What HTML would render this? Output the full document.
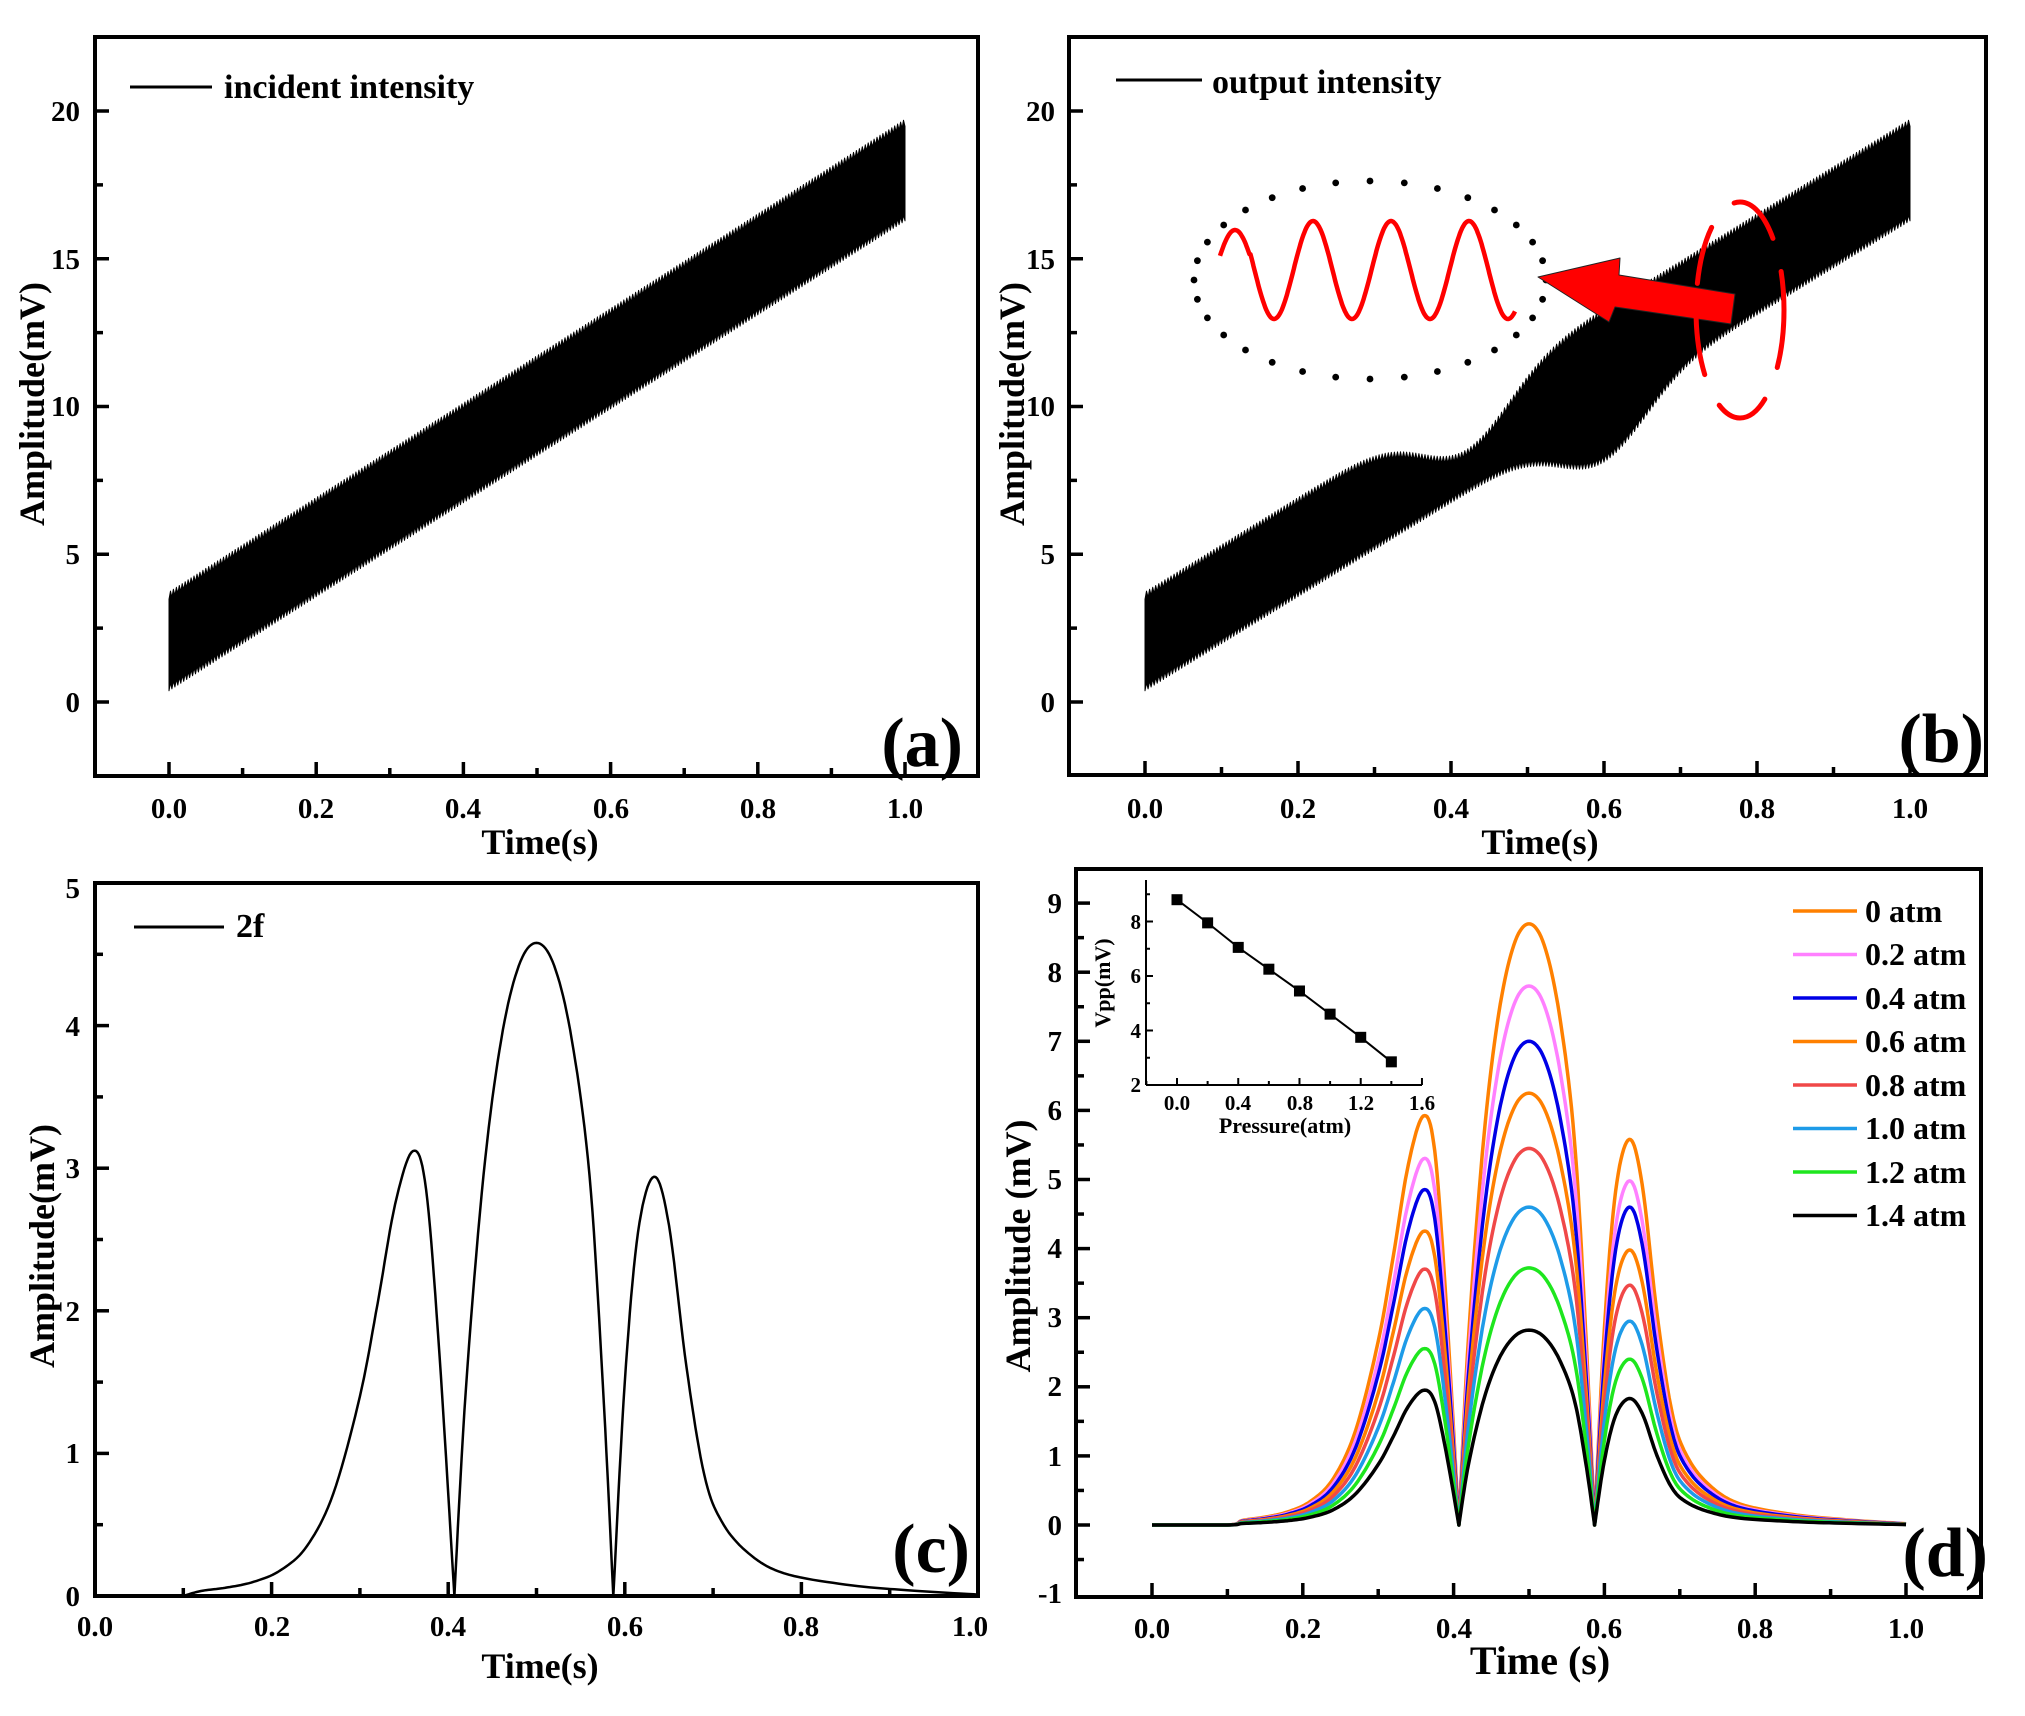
<!DOCTYPE html>
<html><head><meta charset="utf-8">
<style>
html,body{margin:0;padding:0;background:#fff;}
svg{display:block;}
text{font-family:"Liberation Serif",serif;font-weight:bold;fill:#000;}
</style></head>
<body>
<svg id="s" width="2025" height="1716" viewBox="0 0 2025 1716" xmlns="http://www.w3.org/2000/svg">
<g font-size="29" text-anchor="end">
<text x="80" y="712">0</text><text x="80" y="564">5</text><text x="80" y="416">10</text><text x="80" y="269">15</text><text x="80" y="121">20</text>
<text x="1055" y="712">0</text><text x="1055" y="564">5</text><text x="1055" y="416">10</text><text x="1055" y="269">15</text><text x="1055" y="121">20</text>
<text x="80" y="1606">0</text><text x="80" y="1463">1</text><text x="80" y="1321">2</text><text x="80" y="1178">3</text><text x="80" y="1036">4</text><text x="80" y="898">5</text>
<text x="1062" y="1603">-1</text><text x="1062" y="1535">0</text><text x="1062" y="1466">1</text><text x="1062" y="1396">2</text><text x="1062" y="1327">3</text><text x="1062" y="1258">4</text><text x="1062" y="1189">5</text><text x="1062" y="1120">6</text><text x="1062" y="1051">7</text><text x="1062" y="982">8</text><text x="1062" y="913">9</text>
</g>
<g font-size="29" text-anchor="middle">
<text x="169" y="818">0.0</text><text x="316" y="818">0.2</text><text x="463" y="818">0.4</text><text x="611" y="818">0.6</text><text x="758" y="818">0.8</text><text x="905" y="818">1.0</text>
<text x="1145" y="818">0.0</text><text x="1298" y="818">0.2</text><text x="1451" y="818">0.4</text><text x="1604" y="818">0.6</text><text x="1757" y="818">0.8</text><text x="1910" y="818">1.0</text>
<text x="95" y="1636">0.0</text><text x="272" y="1636">0.2</text><text x="448" y="1636">0.4</text><text x="625" y="1636">0.6</text><text x="801" y="1636">0.8</text><text x="970" y="1636">1.0</text>
<text x="1152" y="1638">0.0</text><text x="1303" y="1638">0.2</text><text x="1454" y="1638">0.4</text><text x="1604" y="1638">0.6</text><text x="1755" y="1638">0.8</text><text x="1906" y="1638">1.0</text>
</g>
<g font-size="36" text-anchor="middle">
<text x="540" y="854">Time(s)</text>
<text x="1540" y="854">Time(s)</text>
<text x="540" y="1678">Time(s)</text>
<text x="1540" y="1674" font-size="40">Time (s)</text>
<text transform="translate(44,404) rotate(-90)">Amplitude(mV)</text>
<text transform="translate(1024,404) rotate(-90)">Amplitude(mV)</text>
<text transform="translate(54,1246) rotate(-90)">Amplitude(mV)</text>
<text transform="translate(1030,1246) rotate(-90)">Amplitude (mV)</text>
</g>
<g font-size="34">
<text x="224" y="98">incident intensity</text>
<text x="1212" y="93">output intensity</text>
<text x="236" y="937">2f</text>
</g>
<g font-size="70" text-anchor="end">
<text x="963" y="766">(a)</text>
<text x="1984" y="762">(b)</text>
<text x="970" y="1572">(c)</text>
<text x="1988" y="1576">(d)</text>
</g>
<g font-size="32">
<text x="1865" y="922">0 atm</text><text x="1865" y="965">0.2 atm</text><text x="1865" y="1009">0.4 atm</text><text x="1865" y="1052">0.6 atm</text>
<text x="1865" y="1096">0.8 atm</text><text x="1865" y="1139">1.0 atm</text><text x="1865" y="1183">1.2 atm</text><text x="1865" y="1226">1.4 atm</text>
</g>
<g font-size="21" text-anchor="end">
<text x="1141" y="1092">2</text><text x="1141" y="1038">4</text><text x="1141" y="983">6</text><text x="1141" y="929">8</text>
</g>
<g font-size="21" text-anchor="middle">
<text x="1177" y="1110">0.0</text><text x="1238" y="1110">0.4</text><text x="1300" y="1110">0.8</text><text x="1361" y="1110">1.2</text><text x="1422" y="1110">1.6</text>
<text x="1285" y="1133" font-size="22">Pressure(atm)</text>
<text transform="translate(1110,983) rotate(-90)" font-size="22">Vpp(mV)</text>
</g>
</svg>
<script>
(function(){
var s=document.getElementById('s');var out='';
function L(x1,y1,x2,y2,c,w){out+='<line x1="'+x1+'" y1="'+y1+'" x2="'+x2+'" y2="'+y2+'" stroke="'+(c||'#000')+'" stroke-width="'+(w||3.5)+'"/>';}
function P(d,c,w,f){out+='<path d="'+d+'" stroke="'+(c||'none')+'" stroke-width="'+(w||0)+'" fill="'+(f||'none')+'" stroke-linejoin="round"/>';}
function frame(x1,y1,x2,y2){out+='<rect x="'+x1+'" y="'+y1+'" width="'+(x2-x1)+'" height="'+(y2-y1)+'" fill="none" stroke="#000" stroke-width="4"/>';}
var A={X:function(t){return 169+736*t},Y:function(v){return 702-29.55*v}};
var B={X:function(t){return 1145+765*t},Y:function(v){return 702-29.55*v}};
var C={X:function(t){return 95+883*t},Y:function(v){return 1596-142.6*v}};
var D={X:function(t){return 1152+754*t},Y:function(v){return 1525-69.1*v}};
function band(P_,lo,hi){var d='',i,t,n=500;
 for(i=0;i<=n;i++){t=i/n;var ser=(i%2?0.12:-0.12);d+=(i?'L':'M')+P_.X(t).toFixed(1)+' '+P_.Y(hi(t)+ser).toFixed(1);}
 for(i=n;i>=0;i--){t=i/n;var ser2=(i%2?0.12:-0.12);d+='L'+P_.X(t).toFixed(1)+' '+P_.Y(lo(t)+ser2).toFixed(1);}
 P(d+'Z','#000',1,'#000');}
band(A,function(t){return 0.5+15.9*t},function(t){return 3.6+16*t});
function g(t,c,w){return Math.exp(-Math.pow((t-c)/w,2));}
band(B,function(t){return 0.5+15.9*t-1.8*g(t,0.6,0.08)},function(t){return 3.6+16*t-1.9*g(t,0.42,0.08)});
function ticksX(P_,tv,ybot){tv.forEach(function(a){L(P_.X(a[0]),ybot,P_.X(a[0]),ybot-(a[1]?14:8),'#000',3.5);});}
function ticksY(P_,vv,xl){vv.forEach(function(a){L(xl,P_.Y(a[0]),xl+(a[1]?14:8),P_.Y(a[0]),'#000',3.5);});}
var tx=[];for(var i=0;i<=10;i++)tx.push([i/10,i%2==0]);
ticksX(A,tx,776);ticksX(B,tx,775);ticksX(D,tx,1597);
var txc=[];for(i=1;i<10;i++)txc.push([i/10,i%2==0]);ticksX(C,txc,1596);
var tya=[];for(i=0;i<=8;i++)tya.push([i*2.5,i%2==0]);
ticksY(A,tya,95);ticksY(B,tya,1069);
var tyc=[];for(i=1;i<10;i++)tyc.push([i*0.5,i%2==0]);ticksY(C,tyc,95);
var tyd=[];for(i=-1;i<=18;i++)tyd.push([i*0.5,i%2==0]);ticksY(D,tyd,1076);
frame(95,37,978,776);frame(1069,37,1986,775);frame(95,883,978,1596);frame(1076,869,1981,1597);
L(130,87,212,87,'#000',3);L(1116,80,1202,80,'#000',3);L(134,927,224,927,'#000',3);
var segs=[
 [[0,0],[0.1,0],[0.12,0.035],[0.15,0.06],[0.18,0.1],[0.21,0.18],[0.24,0.35],[0.27,0.72],[0.3,1.4],[0.32,2.05],[0.34,2.75],[0.36,3.12],[0.375,2.85],[0.39,1.7],[0.407,0]],
 [[0.407,0],[0.42,1.45],[0.44,2.95],[0.46,3.9],[0.48,4.42],[0.5,4.58],[0.52,4.42],[0.54,3.9],[0.56,2.95],[0.575,1.5],[0.587,0]],
 [[0.587,0],[0.6,1.5],[0.615,2.55],[0.633,2.94],[0.65,2.6],[0.67,1.6],[0.69,0.85],[0.71,0.52],[0.74,0.3],[0.78,0.16],[0.85,0.08],[0.92,0.04],[1.0,0.01]]];
function cr(pts,k){var r=[];for(var i=0;i<pts.length-1;i++){var p0=pts[Math.max(0,i-1)],p1=pts[i],p2=pts[i+1],p3=pts[Math.min(pts.length-1,i+2)];
 for(var j=0;j<10;j++){var u=j/10,u2=u*u,u3=u2*u;
  var x=0.5*((2*p1[0])+(-p0[0]+p2[0])*u+(2*p0[0]-5*p1[0]+4*p2[0]-p3[0])*u2+(-p0[0]+3*p1[0]-3*p2[0]+p3[0])*u3);
  var y=0.5*((2*p1[1])+(-p0[1]+p2[1])*u+(2*p0[1]-5*p1[1]+4*p2[1]-p3[1])*u2+(-p0[1]+3*p1[1]-3*p2[1]+p3[1])*u3);
  r.push([x,Math.max(0,y)*k]);}}
 r.push([pts[pts.length-1][0],pts[pts.length-1][1]*k]);return r;}
function curve(P_,sc,col,w,startZero){var d='';var first=true;
 for(var si=0;si<3;si++){var pts=segs[si];if(si==0&&!startZero)pts=pts.slice(1);
  cr(pts,sc[si]).forEach(function(p){d+=(first?'M':'L')+P_.X(p[0]).toFixed(1)+' '+P_.Y(p[1]).toFixed(1);first=false;});}
 P(d,col,w);}
curve(C,[1,1,1],'#000',2.5,false);
var cols=['#FF8000','#FF80FF','#0000E6','#FF8000','#F04848','#1E9BE8','#1EE61E','#000'];
var pk=[[5.92,8.7,5.58],[5.3,7.8,4.98],[4.85,7.0,4.6],[4.25,6.25,3.98],[3.7,5.45,3.47],[3.13,4.6,2.95],[2.55,3.72,2.4],[1.95,2.82,1.83]];
for(i=0;i<8;i++){curve(D,[pk[i][0]/3.12,pk[i][1]/4.58,pk[i][2]/2.94],cols[i],3.5,true);
 L(1793,911+i*43.5,1857,911+i*43.5,cols[i],3.5);}
L(1146,880,1146,1085,'#000',2);L(1146,1085,1422,1085,'#000',2);
var IX=function(p){return 1177+153.1*p},IY=function(v){return 1085-27.25*(v-2)};
for(i=-1;i<=8;i++){var xx=IX(i*0.2);L(xx,1085,xx,1085-(i%2==0?7:4),'#000',2);}
for(i=0;i<=7;i++){var yy=IY(2+i);L(1146,yy,1146+(i%2==0?7:4),yy,'#000',2);}
var vp=[8.8,7.95,7.05,6.25,5.45,4.6,3.75,2.85],dd='';
vp.forEach(function(v,k){dd+=(k?'L':'M')+IX(k*0.2)+' '+IY(v);});P(dd,'#000',2);
vp.forEach(function(v,k){out+='<rect x="'+(IX(k*0.2)-5.5)+'" y="'+(IY(v)-5.5)+'" width="11" height="11" fill="#000"/>';});
var cx=1370,cy=280,rx=176,ry=99,n=32;
for(i=0;i<n;i++){var a=2*Math.PI*i/n;out+='<circle cx="'+(cx+rx*Math.cos(a)).toFixed(1)+'" cy="'+(cy+ry*Math.sin(a)).toFixed(1)+'" r="3.4" fill="#000"/>';}
var sd='';for(i=0;i<=300;i++){var x=1220+295*i/300;var ph=(x-1235)/78*2*Math.PI;var amp=(x<1250?40:49);sd+=(i?'L':'M')+x.toFixed(1)+' '+(270-amp*Math.cos(ph)).toFixed(1);}
P(sd,'#FF0000',4.5);
P('M1538 277 L1620 258 L1619 275 L1735 294 L1731 324 L1615 307 L1609 322 Z','#222',1,'#FF0000');
out+='<ellipse cx="1740" cy="310" rx="44" ry="108" fill="none" stroke="#FF0000" stroke-width="5" stroke-dasharray="58 34" stroke-linecap="round"/>';
s.insertAdjacentHTML('afterbegin',out);
})();
</script>
</body></html>
